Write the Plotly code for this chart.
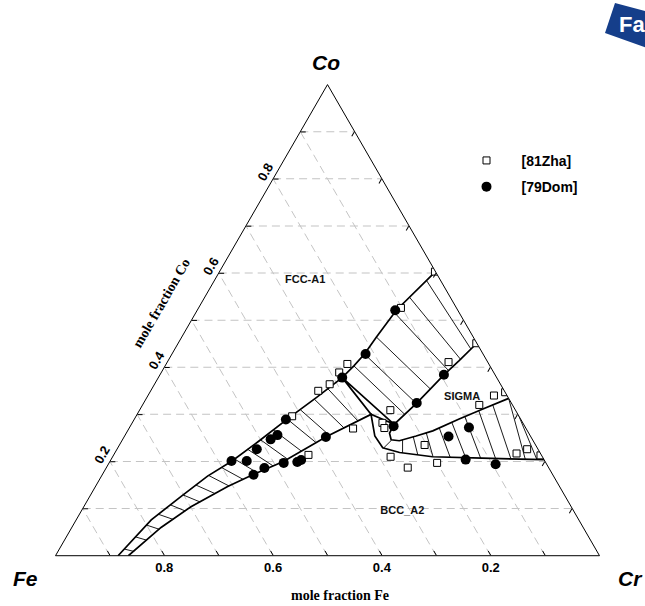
import plotly.graph_objects as go

# ---------------- data: mole fractions (Co = a, Cr = c, Fe = 1 - Co - Cr) ----------------
# FCC phase boundary (FCC+BCC and FCC+SIGMA)
fcc_co = [0.000, 0.076, 0.126, 0.169, 0.201, 0.243, 0.290, 0.336, 0.378, 0.403, 0.428, 0.464, 0.521, 0.603]
fcc_cr = [0.115, 0.138, 0.168, 0.195, 0.224, 0.252, 0.281, 0.312, 0.338, 0.347, 0.354, 0.358, 0.366, 0.397]
# BCC phase boundary (FCC+BCC and BCC+SIGMA)
bcc_co = [0.000, 0.060, 0.104, 0.147, 0.173, 0.200, 0.253, 0.300, 0.254, 0.229, 0.219, 0.210, 0.207, 0.204]
bcc_cr = [0.134, 0.164, 0.197, 0.243, 0.278, 0.319, 0.372, 0.430, 0.460, 0.487, 0.523, 0.588, 0.681, 0.796]
# SIGMA phase boundary
sig_co = [0.451, 0.414, 0.384, 0.324, 0.279, 0.260, 0.246, 0.244, 0.254, 0.265, 0.290, 0.311, 0.334]
sig_cr = [0.549, 0.535, 0.522, 0.502, 0.483, 0.484, 0.494, 0.510, 0.536, 0.561, 0.597, 0.629, 0.666]
# three-phase triangle FCC + BCC + SIGMA
tri_co = [0.378, 0.300, 0.279, 0.378]
tri_cr = [0.338, 0.430, 0.483, 0.338]

# tie-lines FCC + BCC
fb_fcc_co = [0.014, 0.040, 0.065, 0.088, 0.108, 0.129, 0.150, 0.170, 0.187, 0.205, 0.226, 0.246, 0.267, 0.290, 0.310, 0.332, 0.354]
fb_fcc_cr = [0.120, 0.127, 0.135, 0.145, 0.157, 0.170, 0.183, 0.197, 0.212, 0.227, 0.240, 0.254, 0.267, 0.281, 0.295, 0.310, 0.324]
fb_bcc_co = [0.009, 0.033, 0.056, 0.077, 0.095, 0.114, 0.132, 0.148, 0.162, 0.176, 0.191, 0.205, 0.222, 0.240, 0.256, 0.271, 0.286]
fb_bcc_cr = [0.140, 0.151, 0.163, 0.178, 0.191, 0.209, 0.227, 0.245, 0.264, 0.283, 0.304, 0.324, 0.341, 0.359, 0.375, 0.395, 0.413]
# tie-lines FCC + SIGMA
fs_fcc_co = [0.585, 0.549, 0.516, 0.464, 0.428, 0.403]
fs_fcc_cr = [0.389, 0.376, 0.365, 0.358, 0.354, 0.347]
fs_sig_co = [0.439, 0.417, 0.393, 0.354, 0.323, 0.300]
fs_sig_cr = [0.544, 0.536, 0.526, 0.512, 0.502, 0.492]
# tie-lines BCC + SIGMA
bs_sig_co = [0.245, 0.246, 0.253, 0.261, 0.271, 0.283, 0.295, 0.308, 0.321, 0.334, 0.296]
bs_sig_cr = [0.495, 0.515, 0.531, 0.551, 0.570, 0.587, 0.605, 0.624, 0.643, 0.666, 0.704]
bs_bcc_co = [0.229, 0.218, 0.214, 0.210, 0.209, 0.208, 0.207, 0.206, 0.206, 0.205, 0.205]
bs_bcc_cr = [0.489, 0.529, 0.559, 0.589, 0.621, 0.650, 0.678, 0.706, 0.734, 0.761, 0.782]

# experimental points
zha_co = [0.603, 0.526, 0.407, 0.389, 0.364, 0.350, 0.296, 0.270, 0.214, 0.411, 0.451, 0.340,
          0.347, 0.320, 0.309, 0.282, 0.271, 0.235, 0.210, 0.187, 0.197, 0.217, 0.226, 0.213]
zha_cr = [0.396, 0.372, 0.333, 0.327, 0.322, 0.308, 0.287, 0.412, 0.358, 0.517, 0.548, 0.636,
          0.653, 0.619, 0.461, 0.460, 0.469, 0.561, 0.511, 0.554, 0.603, 0.739, 0.754, 0.785]
dom_co = [0.201, 0.201, 0.172, 0.186, 0.226, 0.247, 0.256, 0.289, 0.197, 0.199, 0.203, 0.252,
          0.378, 0.428, 0.521, 0.275, 0.324, 0.384, 0.272, 0.253, 0.204, 0.194]
dom_cr = [0.223, 0.251, 0.278, 0.291, 0.257, 0.272, 0.280, 0.279, 0.321, 0.345, 0.350, 0.371,
          0.338, 0.356, 0.364, 0.484, 0.502, 0.522, 0.624, 0.596, 0.652, 0.712]

# phase labels
phase_names = ["FCC-A1", "SIGMA", "BCC_A2"]
phase_co = [0.584, 0.337, 0.095]
phase_cr = [0.167, 0.579, 0.590]

# axis ticks
tick_vals = [0.1, 0.2, 0.3, 0.4, 0.5, 0.6, 0.7, 0.8, 0.9]
tick_text = ["", "0.2", "", "0.4", "", "0.6", "", "0.8", ""]


def segments(co1, cr1, co2, cr2):
    a, c = [], []
    for p, q, r, s in zip(co1, cr1, co2, cr2):
        a += [p, r, None]
        c += [q, s, None]
    return a, c


def px(x, y):
    return x / 645, 1 - y / 606


fig = go.Figure()
LINE = dict(color="black", width=1.7)
TIE = dict(color="black", width=0.9)

for co1, cr1, co2, cr2 in [(fb_fcc_co, fb_fcc_cr, fb_bcc_co, fb_bcc_cr),
                           (fs_fcc_co, fs_fcc_cr, fs_sig_co, fs_sig_cr),
                           (bs_sig_co, bs_sig_cr, bs_bcc_co, bs_bcc_cr)]:
    a, c = segments(co1, cr1, co2, cr2)
    fig.add_trace(go.Scatterternary(a=a, c=c, mode="lines", line=TIE,
                                    showlegend=False, hoverinfo="skip"))

for a, c in [(fcc_co, fcc_cr), (bcc_co, bcc_cr), (sig_co, sig_cr), (tri_co, tri_cr)]:
    fig.add_trace(go.Scatterternary(a=a, c=c, mode="lines", line=LINE,
                                    showlegend=False, hoverinfo="skip"))

fig.add_trace(go.Scatterternary(
    a=phase_co, c=phase_cr, mode="text", text=phase_names,
    textfont=dict(family="Liberation Sans", size=11, color="#111111", weight="bold"),
    showlegend=False, hoverinfo="skip"))

fig.add_trace(go.Scatterternary(
    a=zha_co, c=zha_cr, mode="markers", name="[81Zha]", legendgroup="g1",
    marker=dict(symbol="square", size=7, color="white", line=dict(color="black", width=1))))
fig.add_trace(go.Scatterternary(
    a=dom_co, c=dom_cr, mode="markers", name="[79Dom]", legendgroup="g2",
    marker=dict(symbol="circle", size=10, color="black", line=dict(color="black", width=0))))

tickfont = dict(family="Liberation Sans", size=13, color="black", weight="bold")
common = dict(title=dict(text=""), showline=True, linecolor="black", linewidth=1,
              ticks="inside", ticklen=5, tickcolor="black", tickwidth=1,
              gridcolor="#c4c4c4", gridwidth=1, griddash="8px,5px")


def note(text, x, y, size, family, angle=0, color="black"):
    px_x, px_y = px(x, y)
    return dict(text=text, x=px_x, y=px_y, xref="paper", yref="paper",
                xanchor="center", yanchor="middle", showarrow=False, textangle=angle,
                font=dict(family=family, size=size, color=color))


lx, ly = px(615, 3)
logo_pts = [px(615, 3), px(656, 14), px(647, 48), px(605, 33)]
logo_path = "M " + " L ".join("{:.4f},{:.4f}".format(p, q) for p, q in logo_pts) + " Z"
fa_x, fa_y = px(617, 24)

fig.update_layout(
    width=645, height=606,
    margin=dict(l=0, r=0, t=0, b=0),
    paper_bgcolor="white",
    plot_bgcolor="white",
    ternary=dict(
        sum=1,
        bgcolor="white",
        domain=dict(x=[0.08605, 0.92946], y=[0.07566, 0.86774]),
        aaxis=dict(tickvals=tick_vals, ticktext=tick_text, showgrid=True,
                   tickfont=tickfont, tickangle=-60, **common),
        baxis=dict(tickvals=tick_vals, ticktext=tick_text, showgrid=True,
                   tickfont=tickfont, **common),
        caxis=dict(tickvals=tick_vals, showticklabels=False, showgrid=False, **common),
    ),
    legend=dict(x=0.70, y=0.761, xanchor="left", yanchor="top",
                font=dict(family="Liberation Sans", size=14, color="black", weight="bold"),
                itemwidth=60, tracegroupgap=5, bgcolor="rgba(0,0,0,0)"),
    annotations=[
        note("<b><i>Co</i></b>", 326, 62, 21, "Liberation Sans"),
        note("<b><i>Fe</i></b>", 25, 578, 21, "Liberation Sans"),
        note("<b><i>Cr</i></b>", 630, 578, 21, "Liberation Sans"),
        note("<b>mole fraction Fe</b>", 340, 595, 14, "Liberation Serif"),
        note("<b>mole fraction Co</b>", 161, 303, 14, "Liberation Serif", angle=-60),
        dict(text="<b>Fa</b>", x=fa_x, y=fa_y, xref="paper", yref="paper",
             xanchor="left", yanchor="middle", showarrow=False,
             font=dict(family="Liberation Sans", size=22, color="white")),
    ],
    shapes=[
        dict(type="path", xref="paper", yref="paper", layer="below",
             path=logo_path, fillcolor="#153e8a", line=dict(width=0)),
    ],
)

fig.write_html("out.html")
